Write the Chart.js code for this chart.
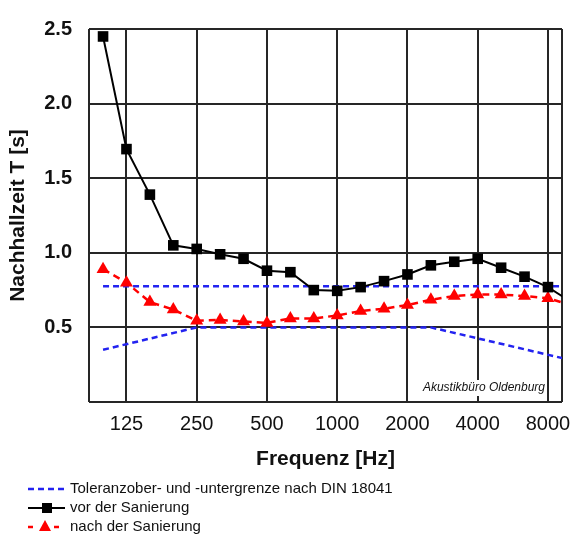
<!DOCTYPE html>
<html>
<head>
<meta charset="utf-8">
<script src="https://cdn.jsdelivr.net/npm/chart.js@4"></script>
<style>
  html, body { margin: 0; padding: 0; background: #fff; }
  #wrap { width: 572px; height: 538px; }
</style>
</head>
<body>
<div id="wrap"><canvas id="chart" width="572" height="538"></canvas></div>
<script>
// Terzbänder (Hz)
const bandFreqs = ['100', '125', '160', '200', '250', '315', '400', '500', '630', '800', '1000',
  '1250', '1600', '2000', '2500', '3150', '4000', '5000', '6300', '8000', '10000'];
const xTickLabels = ['125', '250', '500', '1000', '2000', '4000', '8000'];
const yTickValues = [0, 0.5, 1.0, 1.5, 2.0, 2.5];

// Nachhallzeit T [s]
const vorSanierung = [2.45, 1.695, 1.39, 1.05, 1.026, 0.99, 0.96, 0.88, 0.87, 0.75, 0.745,
  0.77, 0.81, 0.855, 0.916, 0.94, 0.96, 0.90, 0.84, 0.77, 0.67];
const nachSanierung = [0.89, 0.80, 0.67, 0.62, 0.545, 0.55, 0.54, 0.53, 0.56, 0.56, 0.58,
  0.61, 0.625, 0.65, 0.685, 0.71, 0.72, 0.72, 0.71, 0.695, 0.65];

// Toleranzgrenzen DIN 18041
const upperFreqs = ['100', '10000'];
const upperLimit = [0.775, 0.775];
const lowerFreqs = ['100', '250', '2500', '10000'];
const lowerLimit = [0.35, 0.5, 0.5, 0.28];

const legendLabels = [
  'Toleranzober- und -untergrenze nach DIN 18041',
  'vor der Sanierung',
  'nach der Sanierung'
];
const annotationText = 'Akustikbüro Oldenburg';

const FONT = '"Liberation Sans", Arial, sans-serif';
const BLUE = '#2323f0';
const RED = '#ff0000';

// Punkte aus Frequenz + Wert
function toPoints(freqs, values) {
  return values.map((v, i) => ({ x: bandFreqs.indexOf(freqs[i]), y: v }));
}

// Annotation unten rechts
const annotationPlugin = {
  id: 'annotation',
  beforeDatasetsDraw(chart) {
    const { ctx, chartArea } = chart;
    ctx.save();
    ctx.font = 'italic 12px ' + FONT;
    const w = ctx.measureText(annotationText).width;
    const xr = chartArea.right - 17;
    const yc = chartArea.bottom - 14;
    ctx.fillStyle = '#fff';
    ctx.fillRect(xr - w - 2, yc - 8, w + 4, 16);
    ctx.fillStyle = '#111';
    ctx.textAlign = 'right';
    ctx.textBaseline = 'middle';
    ctx.fillText(annotationText, xr, yc);
    ctx.restore();
  }
};

// Legende unter dem Diagramm
const legendPlugin = {
  id: 'customLegend',
  afterDraw(chart) {
    const { ctx } = chart;
    const x0 = 28, x1 = 65, tx = 70;
    const rows = [489, 508, 527];
    ctx.save();

    // Toleranz
    ctx.strokeStyle = BLUE;
    ctx.lineWidth = 2.5;
    ctx.setLineDash([6, 4]);
    ctx.beginPath();
    ctx.moveTo(x0, rows[0]);
    ctx.lineTo(x1, rows[0]);
    ctx.stroke();

    // vor
    ctx.setLineDash([]);
    ctx.strokeStyle = '#000';
    ctx.lineWidth = 2;
    ctx.beginPath();
    ctx.moveTo(x0, rows[1]);
    ctx.lineTo(x1, rows[1]);
    ctx.stroke();
    ctx.fillStyle = '#000';
    ctx.fillRect(42, rows[1] - 5, 10, 10);

    // nach
    ctx.strokeStyle = RED;
    ctx.lineWidth = 2.5;
    ctx.beginPath();
    ctx.moveTo(28, rows[2]); ctx.lineTo(33, rows[2]);
    ctx.moveTo(54, rows[2]); ctx.lineTo(59, rows[2]);
    ctx.stroke();
    ctx.fillStyle = RED;
    ctx.beginPath();
    ctx.moveTo(45, rows[2] - 7);
    ctx.lineTo(51, rows[2] + 4);
    ctx.lineTo(39, rows[2] + 4);
    ctx.closePath();
    ctx.fill();

    ctx.fillStyle = '#111';
    ctx.font = '15px ' + FONT;
    ctx.textAlign = 'left';
    ctx.textBaseline = 'middle';
    legendLabels.forEach((t, i) => ctx.fillText(t, tx, rows[i]));
    ctx.restore();
  }
};

new Chart(document.getElementById('chart'), {
  type: 'line',
  data: {
    datasets: [
      {
        label: legendLabels[1],
        data: toPoints(bandFreqs, vorSanierung),
        borderColor: '#000',
        backgroundColor: '#000',
        borderWidth: 2,
        pointStyle: 'rect',
        pointRadius: 7.5,
        pointBorderWidth: 0,
        order: 1
      },
      {
        label: legendLabels[2],
        data: toPoints(bandFreqs, nachSanierung),
        borderColor: RED,
        backgroundColor: RED,
        borderWidth: 2.5,
        borderDash: [7, 5],
        pointStyle: 'triangle',
        pointRadius: 7.5,
        pointBorderWidth: 0,
        order: 2
      },
      {
        label: 'obere Toleranz',
        data: toPoints(upperFreqs, upperLimit),
        borderColor: BLUE,
        borderWidth: 2.5,
        borderDash: [6, 4],
        pointRadius: 0,
        order: 3
      },
      {
        label: 'untere Toleranz',
        data: toPoints(lowerFreqs, lowerLimit),
        borderColor: BLUE,
        borderWidth: 2.5,
        borderDash: [6, 4],
        pointRadius: 0,
        order: 4
      }
    ]
  },
  options: {
    responsive: false,
    animation: false,
    layout: { padding: { left: 0, right: 9, top: 21, bottom: 66 } },
    plugins: {
      legend: { display: false },
      tooltip: { enabled: false }
    },
    scales: {
      x: {
        type: 'linear',
        min: -0.6,
        max: 19.6,
        afterBuildTicks(scale) {
          const vals = [scale.min, ...xTickLabels.map(l => bandFreqs.indexOf(l)), scale.max];
          scale.ticks = vals.map(v => ({ value: v }));
        },
        afterFit(scale) { scale.height = 70; },
        grid: { color: '#262626', lineWidth: 2, drawTicks: false },
        border: { display: false },
        ticks: {
          autoSkip: false,
          maxRotation: 0,
          padding: 10,
          color: '#111',
          font: { family: FONT, size: 20 },
          callback: (v) => {
            const i = Math.round(v);
            return Math.abs(v - i) < 1e-6 && xTickLabels.includes(bandFreqs[i]) ? bandFreqs[i] : '';
          }
        },
        title: {
          display: true,
          text: 'Frequenz [Hz]',
          color: '#111',
          padding: { top: 0, bottom: 0 },
          font: { family: FONT, size: 21, weight: 'bold' }
        }
      },
      y: {
        min: 0,
        max: 2.5,
        afterBuildTicks(scale) {
          scale.ticks = yTickValues.map(v => ({ value: v }));
        },
        afterFit(scale) { scale.width = 89; },
        grid: { color: '#262626', lineWidth: 2, drawTicks: false },
        border: { display: false },
        ticks: {
          padding: 17,
          color: '#111',
          font: { family: FONT, size: 20, weight: 'bold' },
          callback: (v) => (v === 0 ? '' : v.toFixed(1))
        },
        title: {
          display: true,
          text: 'Nachhallzeit T [s]',
          color: '#111',
          padding: { top: 6, bottom: 0 },
          font: { family: FONT, size: 21, weight: 'bold' }
        }
      }
    }
  },
  plugins: [annotationPlugin, legendPlugin]
});
</script>
</body>
</html>
